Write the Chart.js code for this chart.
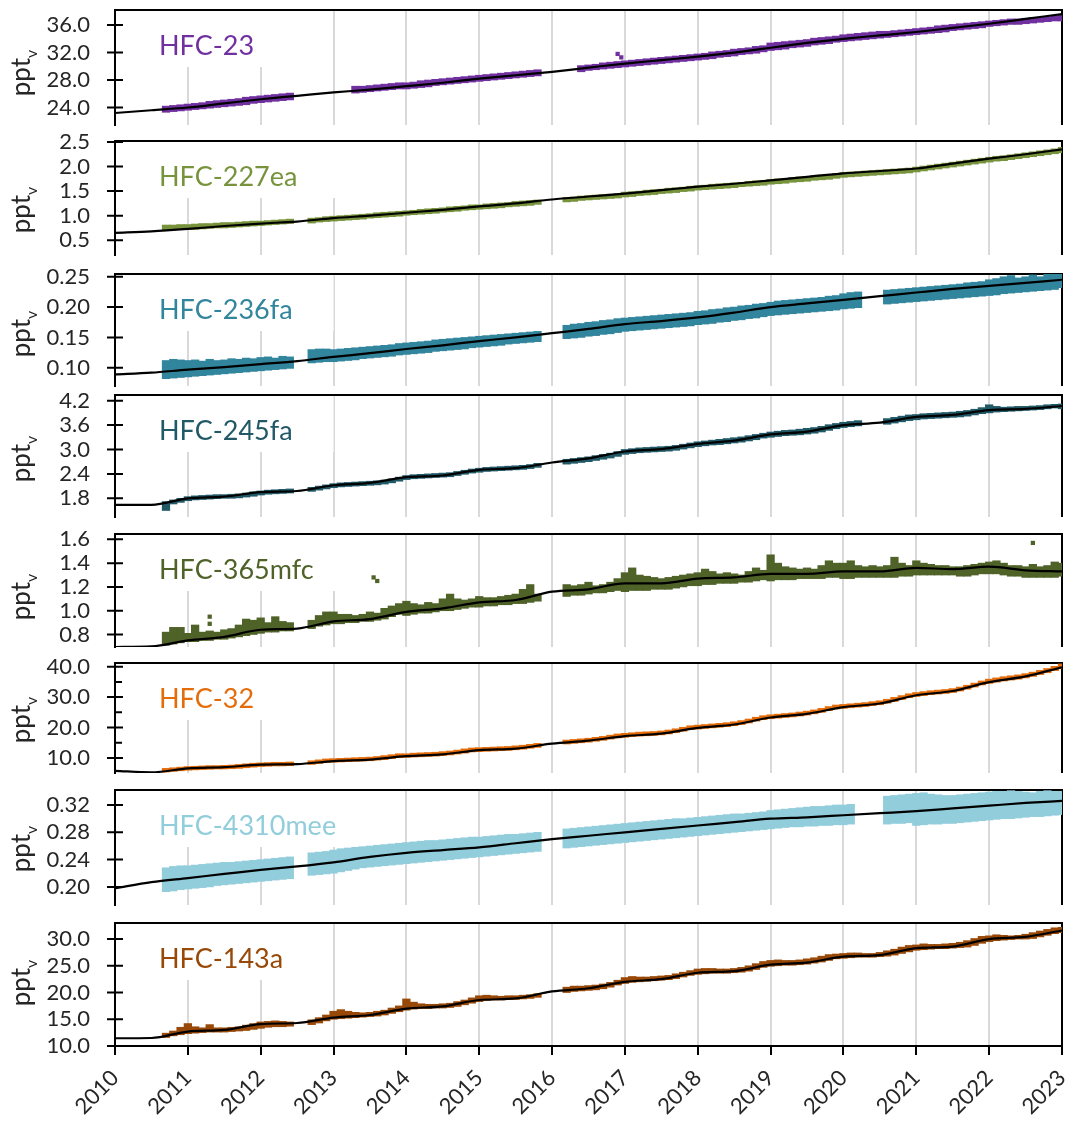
<!DOCTYPE html>
<html>
<head>
<meta charset="utf-8">
<script src="https://cdn.jsdelivr.net/npm/chart.js@4.4.1/dist/chart.umd.min.js"></script>
<style>
  body { margin: 0; background: #fff; width: 1070px; height: 1124px; position: relative; overflow: hidden; }
  canvas { position: absolute; left: 0; }
</style>
</head>
<body>
<script>
// observation times (every 0.1 yr), gaps are null in the series below
var obsYears = [
  2010.7, 2010.8, 2010.9,
  2011.0, 2011.1, 2011.2, 2011.3, 2011.4, 2011.5, 2011.6, 2011.7, 2011.8, 2011.9,
  2012.0, 2012.1, 2012.2, 2012.3, 2012.4, 2012.5, 2012.6, 2012.7, 2012.8, 2012.9,
  2013.0, 2013.1, 2013.2, 2013.3, 2013.4, 2013.5, 2013.6, 2013.7, 2013.8, 2013.9,
  2014.0, 2014.1, 2014.2, 2014.3, 2014.4, 2014.5, 2014.6, 2014.7, 2014.8, 2014.9,
  2015.0, 2015.1, 2015.2, 2015.3, 2015.4, 2015.5, 2015.6, 2015.7, 2015.8, 2015.9,
  2016.0, 2016.1, 2016.2, 2016.3, 2016.4, 2016.5, 2016.6, 2016.7, 2016.8, 2016.9,
  2017.0, 2017.1, 2017.2, 2017.3, 2017.4, 2017.5, 2017.6, 2017.7, 2017.8, 2017.9,
  2018.0, 2018.1, 2018.2, 2018.3, 2018.4, 2018.5, 2018.6, 2018.7, 2018.8, 2018.9,
  2019.0, 2019.1, 2019.2, 2019.3, 2019.4, 2019.5, 2019.6, 2019.7, 2019.8, 2019.9,
  2020.0, 2020.1, 2020.2, 2020.3, 2020.4, 2020.5, 2020.6, 2020.7, 2020.8, 2020.9,
  2021.0, 2021.1, 2021.2, 2021.3, 2021.4, 2021.5, 2021.6, 2021.7, 2021.8, 2021.9,
  2022.0, 2022.1, 2022.2, 2022.3, 2022.4, 2022.5, 2022.6, 2022.7, 2022.8, 2022.9,
  2023.0
];
// smooth fit, every half year
var fitYears = [2010, 2010.5, 2011, 2011.5, 2012, 2012.5, 2013, 2013.5, 2014, 2014.5, 2015, 2015.5, 2016, 2016.5,
  2017, 2017.5, 2018, 2018.5, 2019, 2019.5, 2020, 2020.5, 2021, 2021.5, 2022, 2022.5, 2023];

// ---- HFC-23
var lo23 = [
  23.3, 23.4, 23.5,
  23.6, 23.7, 23.8, 23.9, 24.0, 24.1, 24.2, 24.3, 24.4, 24.6,
  24.7, 24.8, 24.9, 25.0, 25.1, null, null, null, null, null,
  null, null, null, 26.1, 26.2, 26.3, 26.4, 26.5, 26.6, 26.7,
  26.7, 26.8, 26.9, 27.0, 27.2, 27.3, 27.4, 27.5, 27.6, 27.7,
  27.8, 27.9, 28.0, 28.1, 28.2, 28.3, 28.4, 28.5, 28.6, null,
  null, null, null, null, 29.2, 29.4, 29.5, 29.6, 29.7, 29.8,
  29.9, 30.0, 30.1, 30.2, 30.3, 30.4, 30.5, 30.6, 30.7, 30.8,
  30.9, 31.0, 31.1, 31.3, 31.4, 31.5, 31.7, 31.8, 31.9, 32.1,
  32.3, 32.4, 32.5, 32.7, 32.8, 32.9, 33.1, 33.2, 33.3, 33.5,
  33.6, 33.7, 33.8, 33.9, 34.0, 34.1, 34.2, 34.3, 34.4, 34.5,
  34.6, 34.7, 34.8, 34.9, 35.0, 35.2, 35.3, 35.4, 35.5, 35.6,
  35.8, 35.9, 36.0, 36.1, 36.1, 36.2, 36.3, 36.4, 36.5, 36.6,
  36.6
];
var hi23 = [
  24.2, 24.3, 24.4,
  24.5, 24.6, 24.7, 24.9, 25.0, 25.1, 25.2, 25.3, 25.5, 25.6,
  25.7, 25.8, 25.9, 26.0, 26.1, null, null, null, null, null,
  null, null, null, 27.1, 27.1, 27.2, 27.3, 27.4, 27.5, 27.6,
  27.6, 27.7, 27.9, 28.0, 28.1, 28.2, 28.3, 28.4, 28.5, 28.6,
  28.7, 28.8, 28.9, 29.0, 29.1, 29.2, 29.3, 29.4, 29.5, null,
  null, null, null, null, 30.1, 30.2, 30.3, 30.5, 30.6, 30.7,
  30.8, 30.9, 31.0, 31.1, 31.2, 31.3, 31.4, 31.5, 31.6, 31.7,
  31.8, 31.9, 32.1, 32.2, 32.3, 32.5, 32.6, 32.7, 32.9, 33.0,
  33.4, 33.5, 33.6, 33.7, 33.8, 33.9, 34.1, 34.2, 34.3, 34.4,
  34.6, 34.7, 34.8, 34.9, 35.0, 35.1, 35.1, 35.2, 35.3, 35.4,
  35.5, 35.6, 35.7, 35.9, 36.0, 36.1, 36.2, 36.3, 36.4, 36.5,
  36.6, 36.7, 36.8, 36.9, 36.9, 37.0, 37.1, 37.1, 37.2, 37.3,
  37.5
];
var fit23 = [23.2, 23.6, 24.0, 24.6, 25.2, 25.7, 26.2, 26.6, 27.1, 27.6, 28.2, 28.7, 29.2, 29.8,
  30.4, 30.9, 31.4, 32.0, 32.7, 33.4, 34.0, 34.5, 35.0, 35.6, 36.2, 36.9, 37.6];
var out23Years = [2016.9, 2016.95];
var out23 = [31.8, 31.3];
var ticks23 = [24, 28, 32, 36];

// ---- HFC-227ea
var lo227 = [
  0.71, 0.71, 0.72,
  0.72, 0.72, 0.73, 0.74, 0.75, 0.75, 0.76, 0.77, 0.78, 0.79,
  0.80, 0.81, 0.82, 0.83, 0.84, null, null, 0.85, 0.87, 0.88,
  0.89, 0.90, 0.91, 0.92, 0.93, 0.95, 0.96, 0.97, 0.98, 0.99,
  1.01, 1.02, 1.03, 1.04, 1.05, 1.07, 1.08, 1.09, 1.11, 1.12,
  1.13, 1.14, 1.15, 1.16, 1.18, 1.19, 1.20, 1.21, 1.23, null,
  null, null, 1.28, 1.29, 1.31, 1.32, 1.33, 1.34, 1.35, 1.36,
  1.38, 1.39, 1.41, 1.42, 1.43, 1.45, 1.46, 1.47, 1.49, 1.50,
  1.52, 1.53, 1.54, 1.55, 1.56, 1.57, 1.59, 1.60, 1.61, 1.62,
  1.64, 1.65, 1.66, 1.68, 1.69, 1.70, 1.72, 1.73, 1.74, 1.76,
  1.78, 1.79, 1.80, 1.81, 1.82, 1.83, 1.84, 1.85, 1.86, 1.87,
  1.89, 1.91, 1.93, 1.95, 1.97, 1.99, 2.01, 2.03, 2.05, 2.07,
  2.09, 2.11, 2.12, 2.14, 2.16, 2.18, 2.20, 2.22, 2.24, 2.26,
  2.28
];
var hi227 = [
  0.81, 0.81, 0.82,
  0.82, 0.83, 0.84, 0.84, 0.85, 0.86, 0.86, 0.87, 0.88, 0.89,
  0.89, 0.90, 0.91, 0.92, 0.93, null, null, 0.95, 0.96, 0.98,
  0.99, 1.00, 1.01, 1.02, 1.03, 1.04, 1.06, 1.07, 1.08, 1.09,
  1.10, 1.11, 1.13, 1.14, 1.15, 1.16, 1.18, 1.19, 1.20, 1.22,
  1.22, 1.24, 1.25, 1.26, 1.27, 1.29, 1.30, 1.31, 1.32, null,
  null, null, 1.37, 1.38, 1.40, 1.41, 1.42, 1.43, 1.44, 1.45,
  1.48, 1.49, 1.50, 1.52, 1.53, 1.54, 1.56, 1.57, 1.58, 1.60,
  1.61, 1.62, 1.64, 1.65, 1.66, 1.67, 1.68, 1.70, 1.71, 1.72,
  1.74, 1.75, 1.76, 1.78, 1.79, 1.80, 1.82, 1.83, 1.84, 1.86,
  1.88, 1.89, 1.90, 1.91, 1.92, 1.93, 1.94, 1.95, 1.96, 1.97,
  1.99, 2.01, 2.03, 2.05, 2.07, 2.09, 2.11, 2.13, 2.15, 2.17,
  2.19, 2.21, 2.22, 2.24, 2.26, 2.28, 2.30, 2.32, 2.34, 2.36,
  2.39
];
var fit227 = [0.65, 0.68, 0.73, 0.79, 0.84, 0.88, 0.95, 1.00, 1.06, 1.12, 1.19, 1.25, 1.33, 1.39,
  1.45, 1.52, 1.59, 1.65, 1.72, 1.79, 1.86, 1.91, 1.96, 2.06, 2.16, 2.25, 2.35];
var ticks227 = [0.5, 1.0, 1.5, 2.0, 2.5];

// ---- HFC-236fa
var lo236 = [
  0.082, 0.083, 0.084,
  0.085, 0.086, 0.087, 0.088, 0.089, 0.090, 0.091, 0.092, 0.093, 0.094,
  0.095, 0.096, 0.097, 0.098, 0.099, null, null, 0.108, 0.109, 0.110,
  0.110, 0.111, 0.112, 0.113, 0.115, 0.116, 0.117, 0.118, 0.119, 0.121,
  0.122, 0.123, 0.124, 0.125, 0.127, 0.128, 0.129, 0.130, 0.131, 0.133,
  0.134, 0.135, 0.136, 0.137, 0.139, 0.140, 0.141, 0.142, 0.143, null,
  null, null, 0.148, 0.149, 0.150, 0.152, 0.153, 0.155, 0.156, 0.158,
  0.160, 0.161, 0.162, 0.163, 0.164, 0.165, 0.166, 0.167, 0.168, 0.169,
  0.171, 0.172, 0.173, 0.175, 0.176, 0.178, 0.179, 0.181, 0.182, 0.184,
  0.186, 0.187, 0.188, 0.189, 0.190, 0.191, 0.192, 0.193, 0.194, 0.195,
  0.197, 0.198, 0.199, null, null, null, 0.205, 0.206, 0.207, 0.208,
  0.209, 0.210, 0.211, 0.212, 0.213, 0.214, 0.215, 0.216, 0.217, 0.218,
  0.219, 0.220, 0.222, 0.223, 0.224, 0.225, 0.226, 0.227, 0.228, 0.229,
  0.232
];
var hi236 = [
  0.112, 0.114, 0.113,
  0.112, 0.113, 0.111, 0.114, 0.112, 0.113, 0.115, 0.114, 0.116, 0.115,
  0.117, 0.118, 0.116, 0.119, 0.118, null, null, 0.130, 0.131, 0.131,
  0.130, 0.131, 0.132, 0.133, 0.134, 0.135, 0.136, 0.137, 0.138, 0.140,
  0.141, 0.142, 0.143, 0.144, 0.146, 0.147, 0.148, 0.149, 0.150, 0.151,
  0.152, 0.153, 0.154, 0.155, 0.156, 0.157, 0.158, 0.159, 0.160, null,
  null, null, 0.170, 0.172, 0.173, 0.175, 0.176, 0.178, 0.179, 0.181,
  0.182, 0.183, 0.184, 0.185, 0.186, 0.187, 0.188, 0.189, 0.190, 0.191,
  0.193, 0.194, 0.196, 0.197, 0.199, 0.200, 0.202, 0.203, 0.205, 0.206,
  0.208, 0.210, 0.211, 0.212, 0.213, 0.214, 0.215, 0.216, 0.218, 0.219,
  0.222, 0.224, 0.225, null, null, null, 0.228, 0.229, 0.230, 0.231,
  0.232, 0.233, 0.234, 0.235, 0.236, 0.237, 0.238, 0.240, 0.241, 0.242,
  0.245, 0.247, 0.250, 0.252, 0.248, 0.250, 0.253, 0.250, 0.255, 0.256,
  0.256
];
var fit236 = [0.089, 0.092, 0.097, 0.101, 0.106, 0.111, 0.118, 0.124, 0.131, 0.137, 0.144, 0.150, 0.157, 0.164,
  0.172, 0.177, 0.183, 0.191, 0.200, 0.206, 0.212, 0.218, 0.224, 0.230, 0.235, 0.240, 0.245];
var ticks236 = [0.10, 0.15, 0.20, 0.25];

// ---- HFC-245fa
var lo245 = [
  1.50, 1.66, 1.70,
  1.74, 1.76, 1.77, 1.78, 1.79, 1.80, 1.80, 1.81, 1.83, 1.85,
  1.88, 1.90, 1.91, 1.92, 1.93, null, null, 1.97, 2.00, 2.03,
  2.06, 2.08, 2.09, 2.10, 2.11, 2.12, 2.13, 2.15, 2.18, 2.22,
  2.26, 2.28, 2.29, 2.30, 2.31, 2.32, 2.33, 2.36, 2.39, 2.42,
  2.44, 2.46, 2.47, 2.48, 2.49, 2.50, 2.51, 2.53, 2.56, null,
  null, null, 2.64, 2.66, 2.68, 2.70, 2.73, 2.76, 2.79, 2.83,
  2.88, 2.90, 2.92, 2.93, 2.94, 2.95, 2.96, 2.98, 3.01, 3.04,
  3.07, 3.09, 3.11, 3.12, 3.14, 3.16, 3.18, 3.21, 3.24, 3.28,
  3.30, 3.32, 3.34, 3.35, 3.36, 3.38, 3.40, 3.43, 3.47, 3.51,
  3.54, 3.56, 3.58, null, null, null, 3.62, 3.65, 3.68, 3.71,
  3.73, 3.75, 3.76, 3.77, 3.78, 3.79, 3.80, 3.82, 3.85, 3.88,
  3.90, 3.92, 3.93, 3.94, 3.95, 3.96, 3.97, 3.98, 4.00, 4.02,
  4.00
];
var hi245 = [
  1.72, 1.76, 1.80,
  1.84, 1.86, 1.87, 1.88, 1.89, 1.89, 1.90, 1.91, 1.93, 1.96,
  1.98, 2.00, 2.01, 2.02, 2.03, null, null, 2.07, 2.10, 2.13,
  2.16, 2.18, 2.19, 2.20, 2.21, 2.22, 2.23, 2.25, 2.28, 2.32,
  2.36, 2.38, 2.39, 2.40, 2.41, 2.42, 2.43, 2.46, 2.49, 2.52,
  2.54, 2.56, 2.57, 2.58, 2.59, 2.60, 2.61, 2.63, 2.66, null,
  null, null, 2.76, 2.78, 2.80, 2.82, 2.85, 2.88, 2.91, 2.95,
  3.00, 3.02, 3.04, 3.05, 3.06, 3.07, 3.08, 3.10, 3.13, 3.16,
  3.19, 3.21, 3.23, 3.25, 3.27, 3.29, 3.31, 3.34, 3.37, 3.40,
  3.43, 3.45, 3.47, 3.48, 3.50, 3.52, 3.54, 3.57, 3.61, 3.64,
  3.67, 3.69, 3.71, null, null, null, 3.76, 3.79, 3.82, 3.85,
  3.86, 3.88, 3.89, 3.90, 3.91, 3.92, 3.94, 3.96, 3.99, 4.03,
  4.10, 4.06, 4.04, 4.05, 4.06, 4.06, 4.07, 4.08, 4.10, 4.11,
  4.12
];
var fit245 = [1.64, 1.64, 1.80, 1.84, 1.95, 1.98, 2.12, 2.18, 2.32, 2.36, 2.50, 2.54, 2.68, 2.78,
  2.95, 3.01, 3.14, 3.22, 3.37, 3.44, 3.60, 3.66, 3.80, 3.85, 3.97, 4.00, 4.07];
var ticks245 = [1.8, 2.4, 3.0, 3.6, 4.2];

// ---- HFC-365mfc
var lo365 = [
  0.71, 0.72, 0.73,
  0.74, 0.74, 0.75, 0.75, 0.76, 0.76, 0.77, 0.78, 0.79, 0.80,
  0.81, 0.82, 0.82, 0.83, 0.83, null, null, 0.85, 0.87, 0.88,
  0.89, 0.89, 0.90, 0.90, 0.91, 0.91, 0.92, 0.93, 0.95, 0.97,
  0.96, 0.97, 0.98, 0.98, 0.99, 1.00, 1.00, 1.01, 1.02, 1.03,
  1.03, 1.04, 1.04, 1.05, 1.05, 1.06, 1.06, 1.07, 1.08, null,
  null, null, 1.12, 1.13, 1.13, 1.14, 1.15, 1.15, 1.16, 1.17,
  1.16, 1.17, 1.17, 1.17, 1.18, 1.18, 1.18, 1.19, 1.20, 1.21,
  1.21, 1.22, 1.22, 1.23, 1.23, 1.23, 1.24, 1.24, 1.25, 1.26,
  1.25, 1.26, 1.26, 1.26, 1.27, 1.27, 1.27, 1.27, 1.28, 1.28,
  1.27, 1.27, 1.28, 1.28, 1.28, 1.28, 1.28, 1.28, 1.29, 1.29,
  1.30, 1.30, 1.30, 1.30, 1.30, 1.30, 1.29, 1.29, 1.30, 1.31,
  1.31, 1.31, 1.30, 1.29, 1.29, 1.28, 1.28, 1.28, 1.28, 1.28,
  1.29
];
var hi365 = [
  0.82, 0.86, 0.86,
  0.81, 0.88, 0.82, 0.83, 0.82, 0.84, 0.85, 0.88, 0.93, 0.92,
  0.94, 0.90, 0.95, 0.91, 0.90, null, null, 0.92, 0.96, 0.99,
  0.99, 0.97, 0.97, 0.96, 0.97, 0.99, 0.98, 1.02, 1.04, 1.06,
  1.08, 1.06, 1.05, 1.07, 1.06, 1.10, 1.14, 1.10, 1.09, 1.10,
  1.12, 1.11, 1.11, 1.12, 1.13, 1.14, 1.18, 1.22, 1.14, null,
  null, null, 1.22, 1.21, 1.22, 1.24, 1.21, 1.22, 1.24, 1.27,
  1.32, 1.36, 1.30, 1.29, 1.28, 1.27, 1.28, 1.29, 1.30, 1.31,
  1.32, 1.35, 1.33, 1.31, 1.32, 1.31, 1.30, 1.33, 1.36, 1.34,
  1.47, 1.40, 1.37, 1.36, 1.35, 1.36, 1.35, 1.38, 1.42, 1.40,
  1.40, 1.42, 1.38, 1.37, 1.38, 1.37, 1.38, 1.45, 1.40, 1.38,
  1.42, 1.40, 1.39, 1.38, 1.38, 1.37, 1.37, 1.38, 1.39, 1.40,
  1.41, 1.42, 1.40, 1.38, 1.38, 1.37, 1.39, 1.37, 1.38, 1.41,
  1.40
];
var fit365 = [0.695, 0.70, 0.75, 0.78, 0.84, 0.85, 0.91, 0.93, 0.99, 1.02, 1.07, 1.09, 1.16, 1.18,
  1.23, 1.23, 1.27, 1.28, 1.31, 1.31, 1.33, 1.33, 1.36, 1.35, 1.37, 1.34, 1.33];
var out365Years = [2011.3, 2011.3, 2013.55, 2013.6, 2022.6];
var out365 = [0.95, 0.89, 1.28, 1.25, 1.57];
var ticks365 = [0.8, 1.0, 1.2, 1.4, 1.6];

// ---- HFC-32
var lo32 = [
  5.4, 5.6, 5.8,
  6.0, 6.1, 6.2, 6.3, 6.4, 6.4, 6.5, 6.6, 6.8, 7.0,
  7.2, 7.3, 7.4, 7.4, 7.5, null, null, 7.9, 8.2, 8.5,
  8.6, 8.7, 8.8, 8.9, 9.0, 9.1, 9.3, 9.5, 9.8, 10.1,
  10.2, 10.3, 10.4, 10.5, 10.6, 10.8, 11.0, 11.3, 11.6, 12.0,
  12.1, 12.2, 12.3, 12.4, 12.5, 12.7, 12.9, 13.2, 13.5, null,
  null, null, 14.6, 14.8, 15.0, 15.2, 15.5, 15.8, 16.2, 16.6,
  16.8, 17.0, 17.2, 17.3, 17.4, 17.6, 17.9, 18.3, 18.8, 19.3,
  19.5, 19.7, 19.9, 20.1, 20.3, 20.6, 21.0, 21.5, 22.1, 22.6,
  22.9, 23.1, 23.3, 23.5, 23.8, 24.1, 24.5, 25.0, 25.6, 26.1,
  26.3, 26.5, 26.7, 26.9, 27.2, 27.5, 28.0, 28.6, 29.2, 29.8,
  30.2, 30.5, 30.8, 31.0, 31.2, 31.5, 32.0, 32.6, 33.3, 34.0,
  34.5, 34.9, 35.3, 35.6, 35.9, 36.3, 36.8, 37.4, 38.0, 38.7,
  39.3
];
var hi32 = [
  6.6, 6.8, 7.0,
  7.2, 7.3, 7.4, 7.5, 7.5, 7.6, 7.7, 7.9, 8.1, 8.3,
  8.4, 8.5, 8.6, 8.6, 8.7, null, null, 9.1, 9.4, 9.7,
  9.8, 9.9, 10.0, 10.1, 10.2, 10.3, 10.5, 10.8, 11.1, 11.4,
  11.4, 11.6, 11.7, 11.8, 11.9, 12.1, 12.3, 12.6, 13.0, 13.3,
  13.4, 13.5, 13.6, 13.7, 13.8, 14.0, 14.2, 14.5, 14.8, null,
  null, null, 15.9, 16.1, 16.3, 16.5, 16.8, 17.1, 17.5, 17.9,
  18.1, 18.3, 18.5, 18.6, 18.7, 18.9, 19.2, 19.6, 20.1, 20.6,
  20.8, 21.0, 21.2, 21.4, 21.6, 21.9, 22.3, 22.8, 23.4, 23.9,
  24.2, 24.4, 24.6, 24.8, 25.1, 25.4, 25.8, 26.3, 26.9, 27.4,
  27.6, 27.8, 28.0, 28.2, 28.5, 28.8, 29.3, 29.9, 30.5, 31.1,
  31.5, 31.8, 32.1, 32.3, 32.5, 32.8, 33.3, 33.9, 34.6, 35.3,
  35.9, 36.3, 36.7, 37.0, 37.3, 37.7, 38.2, 38.8, 39.4, 40.1,
  40.9
];
var fit32 = [5.8, 5.3, 6.6, 7.0, 7.8, 8.0, 9.0, 9.5, 10.6, 11.2, 12.6, 13.1, 14.7, 15.7,
  17.2, 18.0, 19.9, 21.0, 23.3, 24.5, 26.7, 27.9, 30.6, 32.0, 34.9, 36.8, 39.8];
var ticks32 = [10, 20, 30, 40];
var minor32 = [15, 25, 35];

// ---- HFC-4310mee
var lo4310 = [
  0.193, 0.194, 0.196,
  0.197, 0.198, 0.199, 0.200, 0.202, 0.203, 0.204, 0.205, 0.206, 0.207,
  0.208, 0.209, 0.210, 0.211, 0.212, null, null, 0.217, 0.218, 0.219,
  0.220, 0.222, 0.224, 0.226, 0.228, 0.229, 0.230, 0.231, 0.232, 0.233,
  0.234, 0.235, 0.236, 0.237, 0.238, 0.239, 0.240, 0.241, 0.242, 0.243,
  0.244, 0.245, 0.246, 0.247, 0.248, 0.249, 0.250, 0.251, 0.252, null,
  null, null, 0.257, 0.258, 0.259, 0.260, 0.261, 0.262, 0.263, 0.264,
  0.265, 0.266, 0.267, 0.268, 0.269, 0.270, 0.271, 0.272, 0.273, 0.274,
  0.275, 0.276, 0.277, 0.278, 0.279, 0.280, 0.281, 0.282, 0.283, 0.284,
  0.285, 0.286, 0.287, 0.288, 0.288, 0.289, 0.289, 0.290, 0.290, 0.291,
  0.291, 0.292, null, null, null, null, 0.292, 0.293, 0.293, 0.294,
  0.290, 0.291, 0.292, 0.292, 0.293, 0.293, 0.294, 0.295, 0.296, 0.297,
  0.298, 0.299, 0.300, 0.300, 0.301, 0.302, 0.303, 0.303, 0.304, 0.305,
  0.306
];
var hi4310 = [
  0.228, 0.230, 0.231,
  0.231, 0.232, 0.233, 0.234, 0.235, 0.236, 0.236, 0.237, 0.238, 0.239,
  0.240, 0.241, 0.242, 0.243, 0.244, null, null, 0.250, 0.251, 0.252,
  0.254, 0.256, 0.257, 0.258, 0.259, 0.260, 0.261, 0.262, 0.263, 0.264,
  0.265, 0.266, 0.267, 0.268, 0.268, 0.269, 0.270, 0.271, 0.272, 0.273,
  0.273, 0.274, 0.275, 0.276, 0.277, 0.277, 0.278, 0.279, 0.280, null,
  null, null, 0.285, 0.286, 0.287, 0.288, 0.289, 0.290, 0.291, 0.292,
  0.293, 0.294, 0.295, 0.296, 0.297, 0.298, 0.299, 0.300, 0.300, 0.301,
  0.302, 0.303, 0.304, 0.305, 0.306, 0.307, 0.307, 0.308, 0.309, 0.310,
  0.312, 0.313, 0.314, 0.315, 0.316, 0.317, 0.318, 0.318, 0.319, 0.320,
  0.320, 0.321, null, null, null, null, 0.333, 0.334, 0.335, 0.336,
  0.337, 0.338, 0.336, 0.335, 0.334, 0.334, 0.335, 0.336, 0.337, 0.338,
  0.339, 0.340, 0.340, 0.341, 0.340, 0.339, 0.338, 0.340, 0.341, 0.340,
  0.340
];
var fit4310 = [0.198, 0.207, 0.213, 0.219, 0.225, 0.230, 0.236, 0.244, 0.250, 0.254, 0.258, 0.264, 0.270, 0.275,
  0.280, 0.285, 0.290, 0.295, 0.300, 0.302, 0.305, 0.308, 0.311, 0.315, 0.319, 0.323, 0.326];
var ticks4310 = [0.20, 0.24, 0.28, 0.32];

// ---- HFC-143a
var lo143 = [
  11.6, 11.9, 12.1,
  12.3, 12.4, 12.5, 12.6, 12.6, 12.6, 12.7, 12.8, 12.9, 13.1,
  13.3, 13.5, 13.6, 13.6, 13.7, null, null, 14.0, 14.3, 14.7,
  15.0, 15.1, 15.2, 15.3, 15.4, 15.5, 15.6, 15.8, 16.1, 16.4,
  16.7, 16.9, 17.0, 17.0, 17.1, 17.1, 17.2, 17.4, 17.7, 18.0,
  18.3, 18.5, 18.6, 18.6, 18.7, 18.7, 18.8, 18.9, 19.1, null,
  null, null, 20.0, 20.2, 20.3, 20.4, 20.5, 20.7, 21.0, 21.4,
  21.7, 21.9, 22.0, 22.1, 22.2, 22.3, 22.4, 22.6, 22.9, 23.2,
  23.4, 23.5, 23.6, 23.6, 23.6, 23.7, 23.8, 24.0, 24.3, 24.7,
  24.9, 25.0, 25.1, 25.1, 25.2, 25.3, 25.5, 25.7, 26.0, 26.3,
  26.4, 26.5, 26.6, 26.6, 26.6, 26.7, 26.8, 27.0, 27.3, 27.6,
  27.9, 28.0, 28.1, 28.2, 28.2, 28.3, 28.4, 28.5, 28.8, 29.2,
  29.5, 29.7, 29.8, 29.9, 30.0, 30.0, 30.1, 30.4, 30.7, 31.0,
  31.2
];
var hi143 = [
  12.4, 12.8, 13.5,
  14.2, 13.6, 13.4, 14.0, 13.4, 13.4, 13.5, 13.6, 13.9, 14.2,
  14.5, 14.6, 14.7, 14.6, 14.5, null, null, 14.9, 15.3, 15.8,
  16.5, 16.8, 16.5, 16.3, 16.2, 16.3, 16.5, 16.7, 17.1, 17.5,
  18.8, 18.2, 17.9, 17.8, 17.8, 17.9, 18.0, 18.3, 18.6, 19.0,
  19.4, 19.5, 19.4, 19.3, 19.4, 19.4, 19.5, 19.6, 19.8, null,
  null, null, 21.0, 21.2, 21.2, 21.3, 21.4, 21.6, 21.9, 22.3,
  22.8, 23.0, 22.9, 22.9, 23.0, 23.1, 23.2, 23.5, 23.8, 24.1,
  24.4, 24.5, 24.5, 24.4, 24.4, 24.5, 24.7, 25.0, 25.4, 25.8,
  26.0, 26.1, 26.0, 26.0, 26.1, 26.3, 26.5, 26.8, 27.1, 27.2,
  27.3, 27.4, 27.4, 27.3, 27.3, 27.5, 27.8, 28.1, 28.5, 28.8,
  28.9, 29.1, 29.0, 29.0, 29.1, 29.2, 29.4, 29.7, 30.1, 30.5,
  30.6, 30.8, 30.7, 30.6, 30.7, 30.9, 31.2, 31.5, 31.8, 32.1,
  32.2
];
var fit143 = [11.45, 11.5, 12.7, 13.0, 14.1, 14.3, 15.3, 15.8, 17.0, 17.4, 18.6, 18.9, 20.2, 20.8,
  22.0, 22.5, 23.7, 24.0, 25.2, 25.6, 26.7, 27.0, 28.3, 28.6, 30.0, 30.4, 31.6];
var ticks143 = [10, 15, 20, 25, 30];

var panels = [
  { label: 'HFC-23', color: '#7030A0', lo: lo23, hi: hi23, fit: fit23, ticks: ticks23, dec: 1,
    min: 21.45, max: 38.2, top: 10, bottom: 125, titleY: 73, outYears: out23Years, out: out23 },
  { label: 'HFC-227ea', color: '#77933C', lo: lo227, hi: hi227, fit: fit227, ticks: ticks227, dec: 1,
    min: 0.2, max: 2.52, top: 141, bottom: 255, titleY: 210 },
  { label: 'HFC-236fa', color: '#31859C', lo: lo236, hi: hi236, fit: fit236, ticks: ticks236, dec: 2,
    min: 0.07, max: 0.2545, top: 274, bottom: 386, titleY: 334 },
  { label: 'HFC-245fa', color: '#215967', lo: lo245, hi: hi245, fit: fit245, ticks: ticks245, dec: 1,
    min: 1.34, max: 4.34, top: 395, bottom: 517, titleY: 459 },
  { label: 'HFC-365mfc', color: '#4F6228', lo: lo365, hi: hi365, fit: fit365, ticks: ticks365, dec: 1,
    min: 0.695, max: 1.645, top: 534, bottom: 647, titleY: 597, outYears: out365Years, out: out365 },
  { label: 'HFC-32', color: '#E46C0A', lo: lo32, hi: hi32, fit: fit32, ticks: ticks32, minor: minor32, dec: 1,
    min: 5.08, max: 41.2, top: 663, bottom: 773, titleY: 720 },
  { label: 'HFC-4310mee', color: '#92CDDC', lo: lo4310, hi: hi4310, fit: fit4310, ticks: ticks4310, dec: 2,
    min: 0.1735, max: 0.342, top: 790, bottom: 905, titleY: 849 },
  { label: 'HFC-143a', color: '#984807', lo: lo143, hi: hi143, fit: fit143, ticks: ticks143, dec: 1,
    min: 10, max: 33.0, top: 923, bottom: 1046, titleY: 983 }
];

Chart.defaults.font.family = 'Lato, "Open Sans", sans-serif';

// frame, label box, cross ticks, ppt_v title
var panelDeco = {
  id: 'panelDeco',
  beforeDatasetsDraw: function (chart, args, o) {
    var ctx = chart.ctx, a = chart.chartArea;
    ctx.save();
    ctx.strokeStyle = '#000';
    ctx.lineWidth = 2;
    ctx.beginPath();
    ctx.moveTo(a.left, a.top);
    ctx.lineTo(a.right, a.top);
    ctx.lineTo(a.right, a.bottom);
    ctx.stroke();
    ctx.font = '27px Lato';
    var w = ctx.measureText(o.label).width;
    ctx.fillStyle = '#fff';
    ctx.fillRect(150, a.top + 1, w + 50, 56);
    ctx.fillStyle = o.color;
    ctx.textBaseline = 'alphabetic';
    ctx.fillText(o.label, 159, a.top + 45);
    ctx.restore();
  },
  afterDatasetsDraw: function (chart, args, o) {
    var ctx = chart.ctx, a = chart.chartArea, ys = chart.scales.y;
    ctx.save();
    ctx.strokeStyle = '#000';
    ctx.lineWidth = 2;
    ctx.beginPath();
    o.ticks.forEach(function (v) {
      var y = ys.getPixelForValue(v);
      ctx.moveTo(a.left - 8, y);
      ctx.lineTo(a.left + 8, y);
    });
    (o.minor || []).forEach(function (v) {
      var y = ys.getPixelForValue(v);
      ctx.moveTo(a.left, y);
      ctx.lineTo(a.left + 7, y);
    });
    ctx.stroke();
    ctx.restore();
  },
  afterDraw: function (chart, args, o) {
    var ctx = chart.ctx;
    ctx.save();
    ctx.translate(30, o.titleY);
    ctx.rotate(-Math.PI / 2);
    ctx.fillStyle = '#262626';
    ctx.font = '26px Lato';
    var w1 = ctx.measureText('ppt').width;
    ctx.font = '16px Lato';
    var w2 = ctx.measureText('v').width;
    var x0 = -(w1 + w2) / 2;
    ctx.textBaseline = 'alphabetic';
    ctx.font = '26px Lato';
    ctx.fillText('ppt', x0, 0);
    ctx.font = '16px Lato';
    ctx.fillText('v', x0 + w1, 7);
    ctx.restore();
  }
};

function barData(lo, hi) {
  var out = [];
  obsYears.forEach(function (t, k) {
    if (lo[k] != null && hi[k] != null) out.push({ x: t, y: [lo[k], hi[k]] });
  });
  return out;
}

panels.forEach(function (p, i) {
  var last = i === panels.length - 1;
  var padTop = i === 0 ? 10 : 12;
  var padBottom = last ? 0 : 6;
  var xH = last ? 1124 - p.bottom : 0;
  var canvasTop = p.top - padTop;
  var cv = document.createElement('canvas');
  cv.width = 1070;
  cv.height = p.bottom - canvasTop + (last ? xH : padBottom);
  cv.style.top = canvasTop + 'px';
  document.body.appendChild(cv);

  var datasets = [
    {
      type: 'line',
      data: fitYears.map(function (t, k) { return { x: t, y: p.fit[k] }; }),
      borderColor: '#000', borderWidth: 2.2, pointRadius: 0,
      cubicInterpolationMode: 'monotone', fill: false, order: 0
    },
    {
      type: 'bar',
      data: barData(p.lo, p.hi),
      backgroundColor: p.color, borderWidth: 0, barThickness: 7.6, order: 2
    }
  ];
  if (p.out) {
    datasets.push({
      type: 'scatter',
      data: p.outYears.map(function (t, k) { return { x: t, y: p.out[k] }; }),
      backgroundColor: p.color, borderWidth: 0, pointStyle: 'rect', pointRadius: 3, order: 1
    });
  }

  new Chart(cv, {
    type: 'bar',
    data: { datasets: datasets },
    options: {
      responsive: false,
      animation: false,
      events: [],
      layout: { padding: { top: padTop, bottom: padBottom, left: 0, right: 8 } },
      plugins: {
        legend: { display: false },
        tooltip: { enabled: false },
        panelDeco: { label: p.label, color: p.color, ticks: p.ticks, minor: p.minor, titleY: p.titleY - canvasTop }
      },
      scales: {
        x: {
          type: 'linear', min: 2010, max: 2023, offset: false,
          ticks: {
            display: last, stepSize: 1, autoSkip: false, maxRotation: 45, minRotation: 45,
            padding: 10, color: '#262626', font: { size: 22 },
            callback: function (v) { return String(v); }
          },
          grid: { offset: false, color: '#d9d9d9', lineWidth: 2, drawTicks: last, tickLength: 9, tickColor: '#000', tickWidth: 2 },
          border: { display: last, color: '#000', width: 2 },
          afterFit: function (s) { s.height = xH; s.paddingLeft = 0; s.paddingRight = 0; }
        },
        y: {
          min: p.min, max: p.max,
          afterBuildTicks: function (s) { s.ticks = p.ticks.map(function (v) { return { value: v }; }); },
          ticks: {
            autoSkip: false, padding: 25, color: '#262626', font: { size: 22 },
            callback: function (v) { return v.toFixed(p.dec); }
          },
          grid: { drawOnChartArea: false, drawTicks: false },
          border: { color: '#000', width: 2 },
          afterFit: function (s) { s.width = 115; s.paddingTop = 0; s.paddingBottom = 0; }
        }
      }
    },
    plugins: [panelDeco]
  });
});
</script>
</body>
</html>
